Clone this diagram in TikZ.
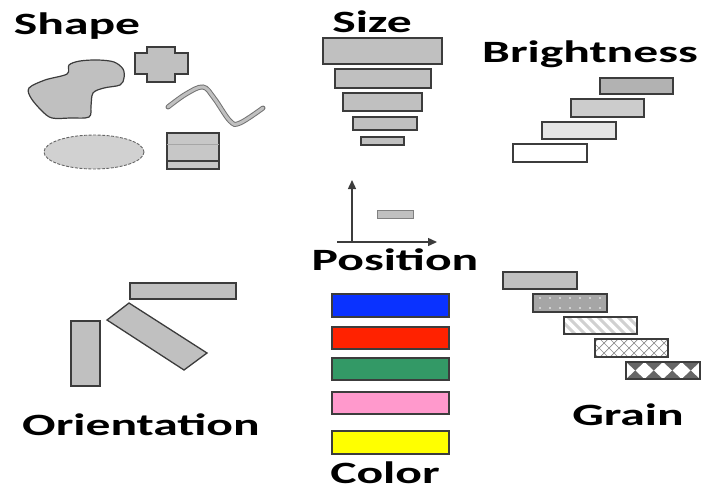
\documentclass[tikz,border=0pt]{standalone}
\usepackage{fontspec}
\newfontfamily\labelfont[FakeStretch=1.6]{Carlito}
\usetikzlibrary{arrows.meta}
\definecolor{barfill}{HTML}{C0C0C0}
\definecolor{edge}{HTML}{3C3C3C}
\definecolor{cblue}{HTML}{0A32FF}
\definecolor{cred}{HTML}{FF2200}
\definecolor{cgreen}{HTML}{339966}
\definecolor{cpink}{HTML}{FF99CC}
\definecolor{cyellow}{HTML}{FFFF00}
\tikzset{
  lbl/.style={font=\labelfont\bfseries\fontsize{31}{31}\selectfont, inner sep=0pt, anchor=base},
  bar/.style={draw=edge, line width=1.3pt, fill=barfill},
  cbar/.style={draw=edge, line width=1.3pt},
}
\begin{document}
\begin{tikzpicture}[x=1pt,y=-1pt]
\useasboundingbox (0,0) rectangle (704,491);

% ---------- labels ----------
\node[lbl] (shape)  at (77,34)   {Shape};
\node[lbl] (size)   at (372,32)  {Size};
\node[lbl] (bright) at (590,62)  {Brightness};
\node[lbl] (pos)    at (395,270) {Position};
\node[lbl] (orient) at (141,435) {Orientation};
\node[lbl] (grain)  at (628,425) {Grain};
\node[lbl, text depth=0pt] (color) at (385,483) {Color};

% ---------- shape ----------
\draw[draw=edge, line width=1.2pt, fill=barfill]
  plot[smooth cycle, tension=0.55] coordinates {
    (29,88) (45,80) (67,74) (69,65) (80,61) (98,60) (114,62) (123,69)
    (124,78) (120,85) (104,88) (93,93) (91,106) (89,117) (70,118)
    (52,118) (42,111) (31,98)};
\draw[draw=edge, line width=1.2pt, fill=barfill]
  (147,47) -- (175,47) -- (175,53) -- (188,53) -- (188,74) -- (175,74)
  -- (175,82) -- (147,82) -- (147,74) -- (135,74) -- (135,53) -- (147,53) -- cycle;
\draw[line width=1pt, draw=gray!90!black, double=barfill, double distance=3pt, line cap=round]
  plot[smooth, tension=0.6] coordinates {(168,107) (186,94) (203,87) (214,98) (230,121) (240,123) (263,108)};
\draw[draw=black!60, fill=black!18, line width=0.9pt, dash pattern=on 3pt off 1.5pt]
  (94,152) ellipse [x radius=50, y radius=17];
\draw[bar, fill=black!22] (167,133) rectangle (219,169);
\draw[gray!70, line width=1pt] (167,144) -- (219,144);
\draw[edge, line width=1.2pt] (167,161) -- (219,161);

% ---------- size ----------
\draw[bar] (323,38)  rectangle (442,64);
\draw[bar] (335,69)  rectangle (431,88);
\draw[bar] (343,93)  rectangle (422,111);
\draw[bar] (353,117) rectangle (417,130);
\draw[bar] (361,137) rectangle (404,145);

% ---------- brightness ----------
\draw[bar, fill=black!30] (600,78)  rectangle (673,94);
\draw[bar, fill=black!20] (571,99)  rectangle (644,117);
\draw[bar, fill=black!10] (542,122) rectangle (616,139);
\draw[bar, fill=white]    (513,144) rectangle (587,162);

% ---------- position ----------
\coordinate (org) at (352,242);
\coordinate (ytip) at (352,180);
\coordinate (xtip) at (437,242);
\coordinate (xstart) at (337,242);
\draw[edge, line width=1.4pt, -{Triangle[width=8pt,length=9pt]}] (org) -- (ytip);
\draw[edge, line width=1.4pt, -{Triangle[width=8pt,length=9pt]}] (xstart) -- (xtip);
\draw[draw=gray, line width=1pt, fill=barfill] (377,210) rectangle (413,218);

% ---------- orientation ----------
\draw[bar] (130,283) rectangle (236,299);
\draw[bar] (71,321) rectangle (100,386);
\draw[bar] (107,320) -- (129,303) -- (207,353) -- (184,370) -- cycle;

% ---------- color ----------
\draw[cbar, fill=cblue]   (332,294) rectangle (449,317);
\draw[cbar, fill=cred]    (332,327) rectangle (449,349);
\draw[cbar, fill=cgreen]  (332,358) rectangle (449,380);
\draw[cbar, fill=cpink]   (332,392) rectangle (449,414);
\draw[cbar, fill=cyellow] (332,431) rectangle (449,454);

% ---------- grain ----------
% plain
\draw[bar] (503,272) rectangle (577,289);
% dotted
\fill[black!35] (533,294) rectangle (607,312);
\foreach \i in {0,...,6} {
  \fill[white] (540+\i*10,298) circle (0.9pt);
  \fill[white] (540+\i*10,308) circle (0.9pt);
}
\draw[edge, line width=1.3pt] (533,294) rectangle (607,312);
% diagonal stripes
\begin{scope}
  \clip (564,317) rectangle (637,334);
  \fill[white] (564,317) rectangle (637,334);
  \foreach \i in {0,...,9}
    \draw[black!18, line width=3pt] (548+\i*10,317) -- (565+\i*10,334);
\end{scope}
\draw[edge, line width=1.3pt] (564,317) rectangle (637,334);
% cross hatch
\begin{scope}
  \clip (595,339) rectangle (668,357);
  \fill[white] (595,339) rectangle (668,357);
  \foreach \i in {0,...,9} {
    \draw[black!45, line width=0.7pt] (580+\i*10,339) -- (598+\i*10,357);
    \draw[black!45, line width=0.7pt] (598+\i*10,339) -- (580+\i*10,357);
  }
\end{scope}
\draw[edge, line width=1.3pt] (595,339) rectangle (668,357);
% diamonds
\begin{scope}
  \clip (626,362) rectangle (700,379);
  \fill[black!60] (626,362) rectangle (700,379);
  \foreach \i in {0,...,4}
    \fill[white] (626+\i*18.5,362) -- (635+\i*18.5,370.5) -- (626+\i*18.5,379) -- (617+\i*18.5,370.5) -- cycle;
\end{scope}
\draw[edge, line width=1.3pt] (626,362) rectangle (700,379);
\end{tikzpicture}
\end{document}
